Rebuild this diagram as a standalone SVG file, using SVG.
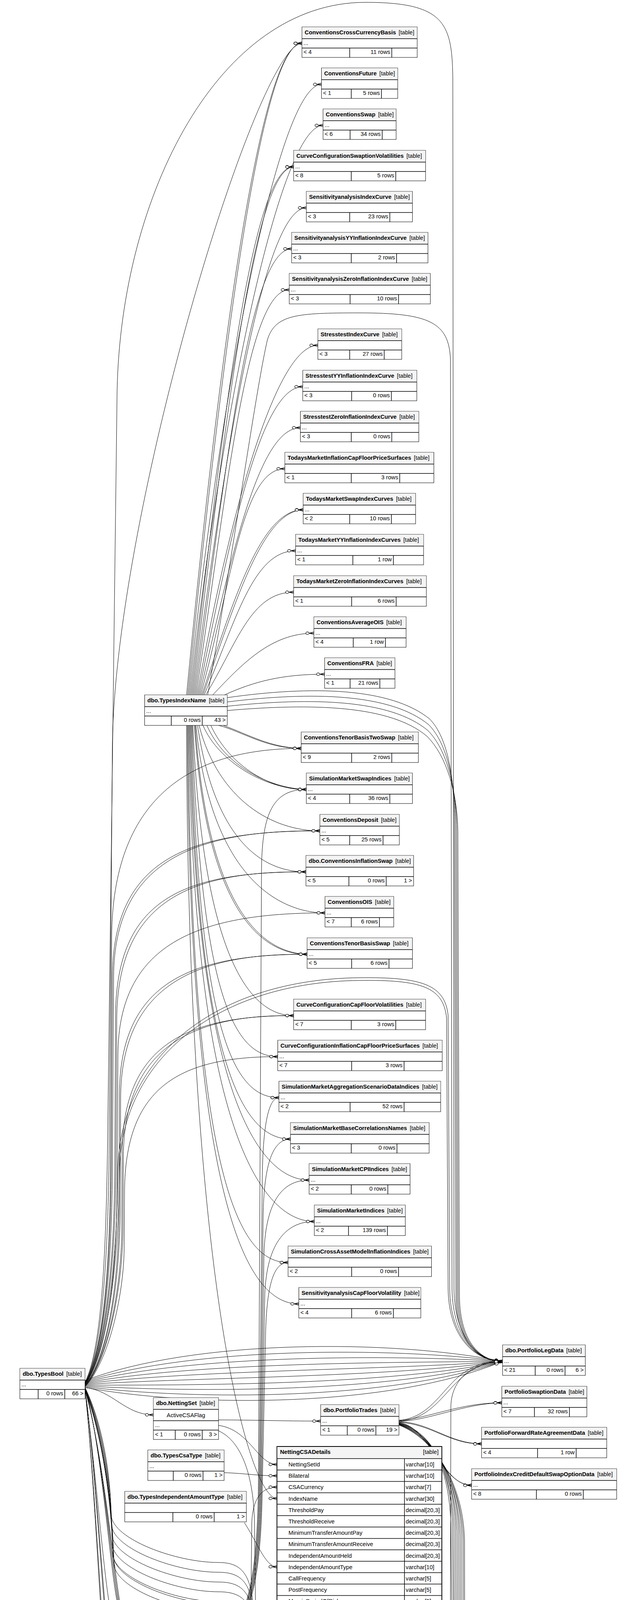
<svg xmlns="http://www.w3.org/2000/svg" width="1596" height="7047" viewBox="0 0 1596 7047">
<style>
text{font-family:"Liberation Sans",Arial,Helvetica,sans-serif;font-size:14.67px;fill:#000}
.b{font-weight:bold}
.r{text-anchor:end}
.c{text-anchor:middle}
.o{fill:#fff;stroke:#000;stroke-width:1}
.o2{fill:#fff;stroke:#000;stroke-width:2}
.h{fill:#f4f4f4}
.nd path{fill:none;stroke:#000;stroke-width:1.5}
#connectors path{fill:none;stroke:#000;stroke-width:1;marker-end:url(#cf)}
</style>
<defs>
<marker id="cf" markerUnits="userSpaceOnUse" viewBox="0 0 24 12" markerWidth="24" markerHeight="12" refX="23" refY="6" orient="auto"><path d="M11 6L23 2.5M11 6H23M11 6L23 9.5" fill="none" stroke="#000" stroke-width="1.3"/><ellipse cx="6.5" cy="6" rx="4.2" ry="3.3" fill="#fff" stroke="#000" stroke-width="1.2"/></marker>
</defs>
<rect width="1596" height="7047" fill="#fff"/>
<g id="connectors">
<path d="M478 1779C558 945 664 111 773.6 111"/>
<path d="M481 1779C563 950 668 108 773.6 111"/>
<path d="M484 1779C564 998 714 216 823.5 216"/>
<path d="M487 1779C567 1050 718 321 827.6 321"/>
<path d="M490 1779C570 1103 642 427 752.2 427"/>
<path d="M493 1779C575 1110 648 430 752.2 427"/>
<path d="M496 1779C576 1156 675 532 784.8 532"/>
<path d="M499 1779C579 1208 637 637 747.1 637"/>
<path d="M502 1779C582 1260 631 742 741 742"/>
<path d="M505 1779C585 1332 704 884 814.3 884"/>
<path d="M508 1779C588 1384 666 990 775.6 990"/>
<path d="M511 1779C591 1437 660 1095 769.5 1095"/>
<path d="M514 1779C594 1490 620 1200 729.8 1200"/>
<path d="M517 1779C597 1542 667 1305 776.7 1305"/>
<path d="M520 1779C602 1545 672 1308 776.7 1305"/>
<path d="M523 1779C603 1594 647 1410 757.3 1410"/>
<path d="M527 1779C607 1648 642 1516 752.2 1516"/>
<path d="M545 1779C620 1700 694 1621 804.1 1621"/>
<path d="M575 1779C650 1745 722 1726 831.6 1726"/>
<path d="M532 1779C600 1400 655 1000 685 870C705 805 760 801 920 801C1100 801 1150 825 1154 920L1158 3300C1160 3430 1225 3485 1287.6 3485"/>
<path d="M582 1786C800 1755 1000 1760 1100 1840C1150 1890 1163 2000 1164 2100L1168 3320C1170 3440 1228 3485 1287.6 3485"/>
<path d="M582 1797C800 1770 1000 1775 1098 1855C1148 1905 1166 2010 1167 2110L1171 3320C1173 3440 1230 3485 1287.6 3485"/>
<path d="M582 1808C800 1785 1000 1790 1096 1870C1146 1920 1169 2020 1170 2120L1174 3320C1176 3440 1232 3485 1287.6 3485"/>
<path d="M582 1819C800 1800 1000 1805 1094 1885C1144 1935 1172 2030 1173 2130L1177 3320C1179 3440 1234 3485 1287.6 3485"/>
<path d="M560 1857C620 1872 680 1916 771.6 1916"/>
<path d="M572 1857C640 1882 690 1913 771.6 1916"/>
<path d="M520 1857C560 1950 680 2021 784.8 2021"/>
<path d="M530 1857C575 1960 690 2018 784.8 2021"/>
<path d="M540 1857C590 1965 700 2024 784.8 2021"/>
<path d="M510 1857C560 2050 700 2127 819.4 2127"/>
<path d="M506 1857C550 2150 670 2232 783.8 2232"/>
<path d="M502 1857C540 2250 720 2337 832.6 2337"/>
<path d="M498 1857C530 2350 680 2443 786.8 2443"/>
<path d="M500 1857C535 2360 690 2440 786.8 2443"/>
<path d="M494 1857C520 2450 640 2600 752.2 2600"/>
<path d="M492 1857C515 2550 600 2705 711.5 2705"/>
<path d="M490 1857C510 2650 600 2810 714.6 2810"/>
<path d="M488 1857C505 2750 630 2916 744.1 2916"/>
<path d="M486 1857C500 2850 680 3021 791.9 3021"/>
<path d="M484 1857C495 2950 690 3127 805.2 3127"/>
<path d="M482 1857C490 3050 620 3232 738 3232"/>
<path d="M480 1857C485 3150 650 3338 765.5 3338"/>
<path d="M478 1857C480 3300 640 3836 709.5 3836"/>
<path d="M218 3538C262 3450 272 3200 276 2900L300 1000C310 500 560 6 936 6C1140 6 1158 60 1160 200L1163 3300C1165 3430 1228 3485 1287.6 3485"/>
<path d="M218 3540C264 3455 278 3200 280 2900L288 1900C298 1300 660 111 773.6 111"/>
<path d="M218 3541C266 3460 283 3250 285 3000L288 2500C290 2200 480 2127 819.4 2127"/>
<path d="M218 3542C267 3462 286 3250 288 3000L291 2500C293 2210 490 2124 819.4 2127"/>
<path d="M218 3543C268 3465 292 3250 294 3000L296 2600C298 2300 470 2232 783.8 2232"/>
<path d="M218 3544C269 3467 295 3250 297 3000L299 2610C301 2310 480 2229 783.8 2232"/>
<path d="M218 3545C272 3470 298 3280 300 3050L302 2700C304 2420 500 2337 832.6 2337"/>
<path d="M218 3546C274 3475 303 3300 305 3100L306 2800C308 2520 480 2443 786.8 2443"/>
<path d="M218 3547C275 3477 306 3300 308 3100L309 2810C311 2530 490 2440 786.8 2443"/>
<path d="M218 3540C265 3455 281 3250 283 3000L286 2400C288 2050 480 1916 771.6 1916"/>
<path d="M218 3548C276 3480 310 3300 312 3150L313 2950C315 2680 470 2600 752.2 2600"/>
<path d="M218 3549C277 3482 313 3300 315 3150L316 2960C318 2690 480 2597 752.2 2600"/>
<path d="M218 3550C278 3485 316 3320 318 3200L319 3050C321 2790 450 2705 711.5 2705"/>
<path d="M218 3542C270 3470 300 3250 302 3000C305 2700 560 2507 920 2503C1080 2501 1140 2520 1148 2600L1152 3300C1154 3430 1224 3485 1287.6 3485"/>
<path d="M218 3543C272 3472 304 3250 306 3000C309 2705 565 2514 920 2510C1078 2508 1136 2526 1144 2606L1148 3300C1150 3430 1222 3485 1287.6 3485"/>
<path d="M218 3534C500 3428 1000 3428 1287.6 3485"/>
<path d="M218 3536C500 3448 1000 3448 1287.6 3485"/>
<path d="M218 3538C500 3468 1000 3468 1287.6 3485"/>
<path d="M218 3540C500 3488 1000 3488 1287.6 3485"/>
<path d="M218 3542C500 3507 1000 3507 1287.6 3485"/>
<path d="M218 3544C500 3526 1000 3526 1287.6 3485"/>
<path d="M218 3546C500 3546 1000 3546 1287.6 3485"/>
<path d="M218 3548C500 3565 1000 3565 1287.6 3485"/>
<path d="M218 3550C500 3585 1000 3585 1287.6 3485"/>
<path d="M218 3552C500 3604 1000 3604 1287.6 3485"/>
<path d="M218 3552C290 3560 320 3622 392.9 3622"/>
<path d="M218 3552C260 3700 280 4000 300 4100C312 4160 330 4178 369.5 4178"/>
<path d="M218 3554C262 3710 284 4010 304 4110C315 4165 335 4178 369.5 4178"/>
<path d="M218 3556C264 3720 288 4020 308 4120C318 4168 340 4178 369.5 4178"/>
<path d="M218 3558C266 3730 292 4030 312 4130C321 4170 345 4178 369.5 4178"/>
<path d="M218 3560C250 3800 270 4100 290 4150C300 4172 330 4178 369.5 4178"/>
<path d="M218 3556C250 3800 270 4250 290 4300C300 4318 310 4319 331.8 4319"/>
<path d="M218 3557C252 3810 273 4255 293 4305C302 4320 312 4321 331.8 4319"/>
<path d="M218 3558C248 3850 265 4350 285 4405C295 4424 305 4425 323.7 4425"/>
<path d="M218 3559C250 3860 268 4355 288 4410C297 4425 307 4426 323.7 4425"/>
<path d="M218 3552C265 3650 283 3780 285 3880C290 3940 450 4000 560 4000C620 4000 645 4030 650 4130L655 4388C657 4433 690 4448 744.1 4448"/>
<path d="M218 3553C266 3660 284 3805 286 3905C291 3965 450 4025 560 4025C622 4025 647 4055 652 4155L657 4493C659 4538 690 4553 718.6 4553"/>
<path d="M218 3554C267 3670 285 3830 287 3930C292 3990 450 4050 560 4050C624 4050 649 4080 654 4180L659 4599C661 4644 692 4659 721.7 4659"/>
<path d="M218 3555C268 3680 286 3855 288 3955C293 4015 450 4075 560 4075C626 4075 651 4105 656 4205L661 4704C663 4749 700 4764 764.4 4764"/>
<path d="M218 3556C269 3690 287 3880 289 3980C294 4040 450 4100 560 4100C628 4100 653 4130 658 4230L663 4845C665 4890 692 4905 720.7 4905"/>
<path d="M218 3557C270 3695 289 3885 291 3985C296 4045 452 4106 562 4106C630 4106 655 4136 660 4236L665 5056C667 5101 692 5116 720.7 5116"/>
<path d="M218 3558C271 3700 290 3905 292 4005C297 4065 450 4125 560 4125C632 4125 657 4155 662 4255L667 4951C669 4996 720 5011 790.9 5011"/>
<path d="M135 5474C150 4700 280 4300 320 4250C338 4205 348 4178 369.5 4178"/>
<path d="M138 5474C155 4720 285 4310 322 4258C340 4210 350 4180 369.5 4178"/>
<path d="M141 5474C160 4740 290 4320 324 4266C342 4215 352 4182 369.5 4178"/>
<path d="M144 5474C165 4760 295 4330 326 4274C344 4220 354 4184 369.5 4178"/>
<path d="M147 5474C165 4900 250 4319 331.8 4319"/>
<path d="M150 5474C170 4920 255 4322 331.8 4319"/>
<path d="M153 5474C172 5000 245 4425 323.7 4425"/>
<path d="M156 5474C176 5010 250 4428 323.7 4425"/>
<path d="M159 5474C180 5050 300 4529 391.9 4529"/>
<path d="M162 5474C185 5060 305 4532 391.9 4529"/>
<path d="M165 5474C190 5070 310 4535 391.9 4529"/>
<path d="M168 5474C190 5200 250 4995 327.8 4995"/>
<path d="M171 5474C195 5280 255 5136 327.8 5136"/>
<path d="M200 5474C230 5400 280 5350 348.1 5350"/>
<path d="M205 5474C235 5405 285 5353 348.1 5350"/>
<path d="M174 5474C200 5000 300 4800 400 4750C520 4700 600 4700 640 4600C660 4500 680 4306 761.4 4306"/>
<path d="M177 5474C205 5000 310 4820 410 4770C530 4720 610 4700 638 4550L645 3900C647 3830 675 3807 709.5 3807"/>
<path d="M180 5474C200 5000 300 4620 380 4600C460 4580 500 4630 560 4630C610 4630 640 4553 718.6 4553"/>
<path d="M183 5474C205 5010 305 4660 385 4640C465 4620 505 4670 565 4670C615 4670 640 4556 718.6 4553"/>
<path d="M186 5474C210 5050 310 4720 390 4700C470 4680 510 4730 570 4730C620 4730 645 4659 721.7 4659"/>
<path d="M189 5474C215 5060 315 4760 395 4740C475 4720 515 4770 575 4770C625 4770 650 4662 721.7 4659"/>
<path d="M192 5474C220 5100 320 4800 400 4780C480 4760 520 4810 580 4810C640 4810 680 4764 764.4 4764"/>
<path d="M195 5474C225 5150 300 4880 420 4870C540 4860 620 4905 720.7 4905"/>
<path d="M198 5474C230 5200 300 4900 440 4895C560 4890 650 5011 790.9 5011"/>
<path d="M201 5474C235 5210 305 4915 445 4910C565 4905 655 5014 790.9 5011"/>
<path d="M226 5474C245 5310 300 5238 420 5240C530 5242 600 5200 640 5160C660 5130 680 5116 720.7 5116"/>
<path d="M228 5474C250 5320 300 5250 420 5255C540 5260 640 5222 791.9 5222"/>
<path d="M232 5474C255 5330 305 5262 425 5268C545 5274 645 5225 791.9 5222"/>
<path d="M235 5474C300 5440 420 5430 560 5420C630 5415 650 5327 704.4 5327"/>
<path d="M240 5476C305 5446 425 5438 565 5428C635 5423 655 5330 704.4 5327"/>
<path d="M252 5488C310 5455 430 5446 570 5436C640 5431 660 5333 704.4 5327"/>
<path d="M252 5498C420 5475 600 5432 753.2 5432"/>
<path d="M252 5513C600 5530 1000 5520 1120 5440C1150 5400 1158 5300 1160 5200L1165 4560C1167 4490 1220 4464 1273.4 4464"/>
<path d="M252 5523C600 5550 1000 5545 1110 5480C1160 5450 1190 5366 1267.3 5366"/>
<path d="M210 5552C240 5590 290 5594 356.3 5594"/>
<path d="M140 5552C150 5650 250 5700 334.9 5700"/>
<path d="M144 5552C155 5655 255 5702 334.9 5700"/>
<path d="M148 5552C160 5660 260 5704 334.9 5700"/>
<path d="M152 5552C165 5665 265 5706 334.9 5700"/>
<path d="M156 5552C170 5720 230 5805 317.6 5805"/>
<path d="M164 5552C180 5800 260 5911 353.2 5911"/>
<path d="M168 5552C185 5805 265 5913 353.2 5911"/>
<path d="M172 5552C190 5810 270 5915 353.2 5911"/>
<path d="M176 5552C195 5900 270 6016 361.4 6016"/>
<path d="M180 5552C200 6100 260 6281 348.1 6281"/>
<path d="M184 5552C205 6300 250 6474 327.8 6474"/>
<path d="M188 5552C210 6400 260 6580 336.9 6580"/>
<path d="M192 5552C215 6500 250 6685 327.8 6685"/>
<path d="M196 5552C218 6600 240 6791 319.6 6791"/>
<path d="M200 5552C205 6300 250 6800 330 6900C400 6960 500 6965 630 6965C900 6965 1050 6874 1285.6 6874"/>
<path d="M204 5552C209 6310 255 6820 335 6918C405 6980 505 6985 640 6985C910 6985 1060 6876 1285.6 6874"/>
<path d="M208 5552C213 6320 260 6840 340 6936C410 6998 510 7002 650 7002C920 7002 1070 6878 1285.6 6874"/>
<path d="M212 5552C230 6100 260 6300 320 6360C400 6420 600 6400 900 6398C1100 6396 1200 6393 1280.5 6393"/>
<path d="M214 5552C232 6110 264 6320 326 6375C406 6430 610 6412 910 6408C1110 6404 1205 6395 1280.5 6393"/>
<path d="M216 5552C230 5900 260 6040 320 6075C400 6110 550 6110 700 6095C900 6075 1120 6000 1145 5800L1150 5450C1152 5390 1210 5366 1267.3 5366"/>
<path d="M220 5552C235 5920 265 6080 325 6110C410 6150 560 6150 720 6135C920 6115 1130 6030 1150 5800L1158 5100C1160 5050 1240 5030 1306 5030"/>
<path d="M224 5552C240 5940 270 6100 330 6125C420 6165 570 6165 740 6150C940 6130 1140 6050 1156 5800L1162 4530C1164 4480 1220 4464 1273.4 4464"/>
<path d="M228 5552C250 5960 280 6150 340 6180C440 6215 600 6215 800 6200C1000 6185 1140 6150 1150 6000L1155 3600C1157 3520 1225 3485 1287.6 3485"/>
<path d="M218 5552C232 5850 262 6000 322 6040C402 6080 560 6100 620 6080C660 6060 680 6003 772.6 6003"/>
<path d="M585 4172C640 4140 660 4000 662 3800L670 2221C672 2081 700 2021 784.8 2021"/>
<path d="M585 4173C642 4142 662 4000 664 3800L672 3010C674 2870 690 2810 714.6 2810"/>
<path d="M585 4174C644 4144 664 4000 666 3800L674 3116C676 2976 700 2916 744.1 2916"/>
<path d="M585 4175C646 4146 666 4000 668 3800L676 3221C678 3081 720 3021 791.9 3021"/>
<path d="M585 4176C648 4148 668 4000 670 3800L678 3327C680 3187 730 3127 805.2 3127"/>
<path d="M585 4177C650 4150 670 4000 672 3800L680 3432C682 3292 700 3232 738 3232"/>
<path d="M585 4178C635 4195 655 4250 660 4320C664 4400 690 4448 744.1 4448"/>
<path d="M585 4179C637 4198 657 4255 662 4325C666 4405 692 4450 744.1 4448"/>
<path d="M585 4180C640 4200 660 4280 664 4380C667 4480 680 4553 718.6 4553"/>
<path d="M585 4181C642 4203 662 4285 666 4390C669 4490 684 4555 718.6 4553"/>
<path d="M585 4182C644 4206 664 4300 668 4450C671 4580 688 4659 721.7 4659"/>
<path d="M585 4183C646 4209 666 4305 670 4460C673 4590 690 4661 721.7 4659"/>
<path d="M585 4184C648 4212 668 4320 672 4550C675 4700 700 4764 764.4 4764"/>
<path d="M585 4185C650 4215 670 4340 674 4650C676 4840 690 4905 720.7 4905"/>
<path d="M585 4186C652 4218 672 4345 676 4660C678 4845 692 4907 720.7 4905"/>
<path d="M585 4187C654 4221 674 4360 678 4750C680 4950 720 5011 790.9 5011"/>
<path d="M585 4188C656 4224 676 4380 680 4850C682 5050 695 5116 720.7 5116"/>
<path d="M585 4189C658 4227 678 4385 682 4860C684 5055 697 5118 720.7 5116"/>
<path d="M585 4190C660 4230 680 4400 684 4950C686 5150 720 5222 791.9 5222"/>
<path d="M585 4191C662 4233 682 4420 686 5050C688 5260 695 5327 704.4 5327"/>
<path d="M585 4192C664 4236 684 4425 688 5060C690 5265 697 5329 704.4 5327"/>
<path d="M585 4193C666 4239 686 4440 690 5150C692 5360 720 5432 753.2 5432"/>
<path d="M585 4194C668 4242 688 4460 692 5400C694 5650 690 5740 700.3 5740"/>
<path d="M585 4195C670 4245 690 4465 694 5410C696 5660 693 5741 700.3 5740"/>
<path d="M1022 3636C1100 3630 1130 3560 1180 3520C1220 3490 1250 3485 1287.6 3485"/>
<path d="M1022 3638C1104 3634 1136 3566 1184 3526C1222 3494 1252 3487 1287.6 3485"/>
<path d="M1022 3637C1100 3630 1180 3591 1285.6 3591"/>
<path d="M1022 3639C1105 3635 1185 3594 1285.6 3591"/>
<path d="M1022 3640C1100 3640 1150 3696 1233.7 3696"/>
<path d="M1022 3641C1105 3645 1155 3699 1233.7 3696"/>
<path d="M1022 3642C1100 3650 1130 3802 1208.2 3802"/>
<path d="M1022 3643C1105 3655 1135 3805 1208.2 3802"/>
<path d="M1022 3644C1100 3660 1150 3750 1155 3900L1160 4380C1162 4440 1220 4464 1273.4 4464"/>
<path d="M1022 3644C1102 3662 1154 3752 1159 3902L1164 4384C1166 4442 1222 4466 1273.4 4464"/>
<path d="M1022 3645C1102 3665 1158 3760 1163 3910L1168 4950C1170 5010 1240 5030 1306 5030"/>
<path d="M1022 3645C1104 3667 1162 3762 1167 3912L1172 4954C1174 5012 1242 5032 1306 5030"/>
<path d="M1022 3646C1104 3670 1166 3770 1171 3920L1176 5290C1178 5345 1220 5366 1267.3 5366"/>
<path d="M1022 3646C1106 3672 1170 3772 1175 3922L1180 5294C1182 5347 1222 5368 1267.3 5366"/>
<path d="M1022 3647C1106 3675 1174 3780 1179 3930L1184 6320C1186 6375 1230 6393 1280.5 6393"/>
<path d="M1022 3647C1108 3677 1178 3782 1183 3932L1186 6324C1188 6377 1232 6395 1280.5 6393"/>
<path d="M1022 3648C1108 3680 1182 3790 1187 3940L1192 6800C1194 6855 1235 6874 1285.6 6874"/>
<path d="M1022 3648C1110 3682 1186 3792 1190 3942L1195 6804C1197 6857 1237 6876 1285.6 6874"/>
<path d="M560 3635C650 3635 720 3638 821.4 3638"/>
<path d="M560 3649C640 3660 660 3749 709.5 3749"/>
<path d="M560 3663C620 3690 650 3780 652 3900L656 4220C658 4285 700 4306 761.4 4306"/>
<path d="M574 3770C630 3772 660 3778 709.5 3778"/>
<path d="M626 3898C660 3950 680 4011 709.5 4011"/>
<path d="M618 5702C650 5706 665 5740 700.3 5740"/>
<path d="M618 5712C660 5760 685 5900 700 5960C712 5995 740 6003 772.6 6003"/>
</g>
<g id="t-ConventionsCrossCurrencyBasis" class="nd" transform="translate(773.6,69)"><rect class="o" width="295.2" height="78"/><rect class="h" x=".5" y=".5" width="294.2" height="29.5"/><path d="M0 30H295.2M0 54H295.2M122.2 54V78M230 54V78"/><text x="7" y="18.5"><tspan class="b">ConventionsCrossCurrencyBasis</tspan><tspan dx="7">[table]</tspan></text><text x="4" y="45.5">...</text><text x="4" y="69">&lt; 4</text><text class="r" x="226" y="69">11 rows</text></g>
<g id="t-ConventionsFuture" class="nd" transform="translate(823.5,174)"><rect class="o" width="195.4" height="78"/><rect class="h" x=".5" y=".5" width="194.4" height="29.5"/><path d="M0 30H195.4M0 54H195.4M76.3 54V78M153.7 54V78"/><text x="7" y="18.5"><tspan class="b">ConventionsFuture</tspan><tspan dx="7">[table]</tspan></text><text x="4" y="69">&lt; 1</text><text class="r" x="149.7" y="69">5 rows</text></g>
<g id="t-ConventionsSwap" class="nd" transform="translate(827.6,279)"><rect class="o" width="187.2" height="78"/><rect class="h" x=".5" y=".5" width="186.2" height="29.5"/><path d="M0 30H187.2M0 54H187.2M69.2 54V78M151.6 54V78"/><text x="7" y="18.5"><tspan class="b">ConventionsSwap</tspan><tspan dx="7">[table]</tspan></text><text x="4" y="45.5">...</text><text x="4" y="69">&lt; 6</text><text class="r" x="147.6" y="69">34 rows</text></g>
<g id="t-CurveConfigurationSwaptionVolatilities" class="nd" transform="translate(752.2,385)"><rect class="o" width="338" height="78"/><rect class="h" x=".5" y=".5" width="337" height="29.5"/><path d="M0 30H338M0 54H338M147.6 54V78M261.6 54V78"/><text x="7" y="18.5"><tspan class="b">CurveConfigurationSwaptionVolatilities</tspan><tspan dx="7">[table]</tspan></text><text x="4" y="45.5">...</text><text x="4" y="69">&lt; 8</text><text class="r" x="257.6" y="69">5 rows</text></g>
<g id="t-SensitivityanalysisIndexCurve" class="nd" transform="translate(784.8,490)"><rect class="o" width="271.8" height="78"/><rect class="h" x=".5" y=".5" width="270.8" height="29.5"/><path d="M0 30H271.8M0 54H271.8M111 54V78M213.8 54V78"/><text x="7" y="18.5"><tspan class="b">SensitivityanalysisIndexCurve</tspan><tspan dx="7">[table]</tspan></text><text x="4" y="69">&lt; 3</text><text class="r" x="209.8" y="69">23 rows</text></g>
<g id="t-SensitivityanalysisYYInflationIndexCurve" class="nd" transform="translate(747.1,595)"><rect class="o" width="349.2" height="78"/><rect class="h" x=".5" y=".5" width="348.2" height="29.5"/><path d="M0 30H349.2M0 54H349.2M152.7 54V78M268.8 54V78"/><text x="7" y="18.5"><tspan class="b">SensitivityanalysisYYInflationIndexCurve</tspan><tspan dx="7">[table]</tspan></text><text x="4" y="45.5">...</text><text x="4" y="69">&lt; 3</text><text class="r" x="264.8" y="69">2 rows</text></g>
<g id="t-SensitivityanalysisZeroInflationIndexCurve" class="nd" transform="translate(741,700)"><rect class="o" width="361.4" height="78"/><rect class="h" x=".5" y=".5" width="360.4" height="29.5"/><path d="M0 30H361.4M0 54H361.4M155.8 54V78M280 54V78"/><text x="7" y="18.5"><tspan class="b">SensitivityanalysisZeroInflationIndexCurve</tspan><tspan dx="7">[table]</tspan></text><text x="4" y="45.5">...</text><text x="4" y="69">&lt; 3</text><text class="r" x="276" y="69">10 rows</text></g>
<g id="t-StresstestIndexCurve" class="nd" transform="translate(814.3,842)"><rect class="o" width="214.8" height="78"/><rect class="h" x=".5" y=".5" width="213.8" height="29.5"/><path d="M0 30H214.8M0 54H214.8M81.5 54V78M170 54V78"/><text x="7" y="18.5"><tspan class="b">StresstestIndexCurve</tspan><tspan dx="7">[table]</tspan></text><text x="4" y="69">&lt; 3</text><text class="r" x="166" y="69">27 rows</text></g>
<g id="t-StresstestYYInflationIndexCurve" class="nd" transform="translate(775.6,948)"><rect class="o" width="292.2" height="78"/><rect class="h" x=".5" y=".5" width="291.2" height="29.5"/><path d="M0 30H292.2M0 54H292.2M125.2 54V78M227 54V78"/><text x="7" y="18.5"><tspan class="b">StresstestYYInflationIndexCurve</tspan><tspan dx="7">[table]</tspan></text><text x="4" y="45.5">...</text><text x="4" y="69">&lt; 3</text><text class="r" x="223" y="69">0 rows</text></g>
<g id="t-StresstestZeroInflationIndexCurve" class="nd" transform="translate(769.5,1053)"><rect class="o" width="303.4" height="78"/><rect class="h" x=".5" y=".5" width="302.4" height="29.5"/><path d="M0 30H303.4M0 54H303.4M130.3 54V78M234.1 54V78"/><text x="7" y="18.5"><tspan class="b">StresstestZeroInflationIndexCurve</tspan><tspan dx="7">[table]</tspan></text><text x="4" y="45.5">...</text><text x="4" y="69">&lt; 3</text><text class="r" x="230.1" y="69">0 rows</text></g>
<g id="t-TodaysMarketInflationCapFloorPriceSurfaces" class="nd" transform="translate(729.8,1158)"><rect class="o" width="381.7" height="78"/><rect class="h" x=".5" y=".5" width="380.7" height="29.5"/><path d="M0 30H381.7M0 54H381.7M170 54V78M294.2 54V78"/><text x="7" y="18.5"><tspan class="b">TodaysMarketInflationCapFloorPriceSurfaces</tspan><tspan dx="7">[table]</tspan></text><text x="4" y="69">&lt; 1</text><text class="r" x="290.2" y="69">3 rows</text></g>
<g id="t-TodaysMarketSwapIndexCurves" class="nd" transform="translate(776.7,1263)"><rect class="o" width="288" height="78"/><rect class="h" x=".5" y=".5" width="287" height="29.5"/><path d="M0 30H288M0 54H288M119.1 54V78M225.9 54V78"/><text x="7" y="18.5"><tspan class="b">TodaysMarketSwapIndexCurves</tspan><tspan dx="7">[table]</tspan></text><text x="4" y="45.5">...</text><text x="4" y="69">&lt; 2</text><text class="r" x="221.9" y="69">10 rows</text></g>
<g id="t-TodaysMarketYYInflationIndexCurves" class="nd" transform="translate(757.3,1368)"><rect class="o" width="327.8" height="78"/><rect class="h" x=".5" y=".5" width="326.8" height="29.5"/><path d="M0 30H327.8M0 54H327.8M146.6 54V78M250.4 54V78"/><text x="7" y="18.5"><tspan class="b">TodaysMarketYYInflationIndexCurves</tspan><tspan dx="7">[table]</tspan></text><text x="4" y="45.5">...</text><text x="4" y="69">&lt; 1</text><text class="r" x="246.4" y="69">1 row</text></g>
<g id="t-TodaysMarketZeroInflationIndexCurves" class="nd" transform="translate(752.2,1474)"><rect class="o" width="340" height="78"/><rect class="h" x=".5" y=".5" width="339" height="29.5"/><path d="M0 30H340M0 54H340M148.6 54V78M262.6 54V78"/><text x="7" y="18.5"><tspan class="b">TodaysMarketZeroInflationIndexCurves</tspan><tspan dx="7">[table]</tspan></text><text x="4" y="69">&lt; 1</text><text class="r" x="258.6" y="69">6 rows</text></g>
<g id="t-ConventionsAverageOIS" class="nd" transform="translate(804.1,1579)"><rect class="o" width="236.2" height="78"/><rect class="h" x=".5" y=".5" width="235.2" height="29.5"/><path d="M0 30H236.2M0 54H236.2M100.8 54V78M183.3 54V78"/><text x="7" y="18.5"><tspan class="b">ConventionsAverageOIS</tspan><tspan dx="7">[table]</tspan></text><text x="4" y="45.5">...</text><text x="4" y="69">&lt; 4</text><text class="r" x="179.3" y="69">1 row</text></g>
<g id="t-ConventionsFRA" class="nd" transform="translate(831.6,1684)"><rect class="o" width="180.2" height="78"/><rect class="h" x=".5" y=".5" width="179.2" height="29.5"/><path d="M0 30H180.2M0 54H180.2M65.2 54V78M141.5 54V78"/><text x="7" y="18.5"><tspan class="b">ConventionsFRA</tspan><tspan dx="7">[table]</tspan></text><text x="4" y="45.5">...</text><text x="4" y="69">&lt; 1</text><text class="r" x="137.5" y="69">21 rows</text></g>
<g id="t-dbo.TypesIndexName" class="nd" transform="translate(370.5,1779)"><rect class="o" width="211.7" height="78"/><rect class="h" x=".5" y=".5" width="210.7" height="29.5"/><path d="M0 30H211.7M0 54H211.7M68.2 54V78M147.6 54V78"/><text x="7" y="18.5"><tspan class="b">dbo.TypesIndexName</tspan><tspan dx="7">[table]</tspan></text><text x="4" y="45.5">...</text><text class="r" x="143.6" y="69">0 rows</text><text class="r" x="207.7" y="69">43 &gt;</text></g>
<g id="t-ConventionsTenorBasisTwoSwap" class="nd" transform="translate(771.6,1874)"><rect class="o" width="300.2" height="78"/><rect class="h" x=".5" y=".5" width="299.2" height="29.5"/><path d="M0 30H300.2M0 54H300.2M129.2 54V78M232 54V78"/><text x="7" y="18.5"><tspan class="b">ConventionsTenorBasisTwoSwap</tspan><tspan dx="7">[table]</tspan></text><text x="4" y="69">&lt; 9</text><text class="r" x="228" y="69">2 rows</text></g>
<g id="t-SimulationMarketSwapIndices" class="nd" transform="translate(784.8,1979)"><rect class="o" width="271.8" height="78"/><rect class="h" x=".5" y=".5" width="270.8" height="29.5"/><path d="M0 30H271.8M0 54H271.8M111 54V78M213.8 54V78"/><text x="7" y="18.5"><tspan class="b">SimulationMarketSwapIndices</tspan><tspan dx="7">[table]</tspan></text><text x="4" y="45.5">...</text><text x="4" y="69">&lt; 4</text><text class="r" x="209.8" y="69">36 rows</text></g>
<g id="t-ConventionsDeposit" class="nd" transform="translate(819.4,2085)"><rect class="o" width="203.6" height="78"/><rect class="h" x=".5" y=".5" width="202.6" height="29.5"/><path d="M0 30H203.6M0 54H203.6M76.4 54V78M161.9 54V78"/><text x="7" y="18.5"><tspan class="b">ConventionsDeposit</tspan><tspan dx="7">[table]</tspan></text><text x="4" y="45.5">...</text><text x="4" y="69">&lt; 5</text><text class="r" x="157.9" y="69">25 rows</text></g>
<g id="t-dbo.ConventionsInflationSwap" class="nd" transform="translate(783.8,2190)"><rect class="o" width="275.8" height="78"/><rect class="h" x=".5" y=".5" width="274.8" height="29.5"/><path d="M0 30H275.8M0 54H275.8M109.9 54V78M205.6 54V78"/><text x="7" y="18.5"><tspan class="b">dbo.ConventionsInflationSwap</tspan><tspan dx="7">[table]</tspan></text><text x="4" y="69">&lt; 5</text><text class="r" x="201.6" y="69">0 rows</text><text class="r" x="271.8" y="69">1 &gt;</text></g>
<g id="t-ConventionsOIS" class="nd" transform="translate(832.6,2295)"><rect class="o" width="176.1" height="78"/><rect class="h" x=".5" y=".5" width="175.1" height="29.5"/><path d="M0 30H176.1M0 54H176.1M67.2 54V78M139.5 54V78"/><text x="7" y="18.5"><tspan class="b">ConventionsOIS</tspan><tspan dx="7">[table]</tspan></text><text x="4" y="45.5">...</text><text x="4" y="69">&lt; 7</text><text class="r" x="135.5" y="69">6 rows</text></g>
<g id="t-ConventionsTenorBasisSwap" class="nd" transform="translate(786.8,2401)"><rect class="o" width="269.8" height="78"/><rect class="h" x=".5" y=".5" width="268.8" height="29.5"/><path d="M0 30H269.8M0 54H269.8M114 54V78M209.7 54V78"/><text x="7" y="18.5"><tspan class="b">ConventionsTenorBasisSwap</tspan><tspan dx="7">[table]</tspan></text><text x="4" y="45.5">...</text><text x="4" y="69">&lt; 5</text><text class="r" x="205.7" y="69">6 rows</text></g>
<g id="t-CurveConfigurationCapFloorVolatilities" class="nd" transform="translate(752.2,2558)"><rect class="o" width="338" height="78"/><rect class="h" x=".5" y=".5" width="337" height="29.5"/><path d="M0 30H338M0 54H338M147.6 54V78M261.6 54V78"/><text x="7" y="18.5"><tspan class="b">CurveConfigurationCapFloorVolatilities</tspan><tspan dx="7">[table]</tspan></text><text x="4" y="69">&lt; 7</text><text class="r" x="257.6" y="69">3 rows</text></g>
<g id="t-CurveConfigurationInflationCapFloorPriceSurfaces" class="nd" transform="translate(711.5,2663)"><rect class="o" width="421.4" height="78"/><rect class="h" x=".5" y=".5" width="420.4" height="29.5"/><path d="M0 30H421.4M0 54H421.4M189.3 54V78M323.7 54V78"/><text x="7" y="18.5"><tspan class="b">CurveConfigurationInflationCapFloorPriceSurfaces</tspan><tspan dx="7">[table]</tspan></text><text x="4" y="45.5">...</text><text x="4" y="69">&lt; 7</text><text class="r" x="319.7" y="69">3 rows</text></g>
<g id="t-SimulationMarketAggregationScenarioDataIndices" class="nd" transform="translate(714.6,2768)"><rect class="o" width="414.3" height="78"/><rect class="h" x=".5" y=".5" width="413.3" height="29.5"/><path d="M0 30H414.3M0 54H414.3M182.2 54V78M320.6 54V78"/><text x="7" y="18.5"><tspan class="b">SimulationMarketAggregationScenarioDataIndices</tspan><tspan dx="7">[table]</tspan></text><text x="4" y="45.5">...</text><text x="4" y="69">&lt; 2</text><text class="r" x="316.6" y="69">52 rows</text></g>
<g id="t-SimulationMarketBaseCorrelationsNames" class="nd" transform="translate(744.1,2874)"><rect class="o" width="355.2" height="78"/><rect class="h" x=".5" y=".5" width="354.2" height="29.5"/><path d="M0 30H355.2M0 54H355.2M155.7 54V78M272.8 54V78"/><text x="7" y="18.5"><tspan class="b">SimulationMarketBaseCorrelationsNames</tspan><tspan dx="7">[table]</tspan></text><text x="4" y="69">&lt; 3</text><text class="r" x="268.8" y="69">0 rows</text></g>
<g id="t-SimulationMarketCPIIndices" class="nd" transform="translate(791.9,2979)"><rect class="o" width="258.6" height="78"/><rect class="h" x=".5" y=".5" width="257.6" height="29.5"/><path d="M0 30H258.6M0 54H258.6M107.9 54V78M201.6 54V78"/><text x="7" y="18.5"><tspan class="b">SimulationMarketCPIIndices</tspan><tspan dx="7">[table]</tspan></text><text x="4" y="45.5">...</text><text x="4" y="69">&lt; 2</text><text class="r" x="197.6" y="69">0 rows</text></g>
<g id="t-SimulationMarketIndices" class="nd" transform="translate(805.2,3085)"><rect class="o" width="233.1" height="78"/><rect class="h" x=".5" y=".5" width="232.1" height="29.5"/><path d="M0 30H233.1M0 54H233.1M87.5 54V78M187.3 54V78"/><text x="7" y="18.5"><tspan class="b">SimulationMarketIndices</tspan><tspan dx="7">[table]</tspan></text><text x="4" y="45.5">...</text><text x="4" y="69">&lt; 2</text><text class="r" x="183.3" y="69">139 rows</text></g>
<g id="t-SimulationCrossAssetModelInflationIndices" class="nd" transform="translate(738,3190)"><rect class="o" width="367.4" height="78"/><rect class="h" x=".5" y=".5" width="366.4" height="29.5"/><path d="M0 30H367.4M0 54H367.4M162.8 54V78M283 54V78"/><text x="7" y="18.5"><tspan class="b">SimulationCrossAssetModelInflationIndices</tspan><tspan dx="7">[table]</tspan></text><text x="4" y="69">&lt; 2</text><text class="r" x="279" y="69">0 rows</text></g>
<g id="t-SensitivityanalysisCapFloorVolatility" class="nd" transform="translate(765.5,3296)"><rect class="o" width="312.5" height="78"/><rect class="h" x=".5" y=".5" width="311.5" height="29.5"/><path d="M0 30H312.5M0 54H312.5M135.3 54V78M242.2 54V78"/><text x="7" y="18.5"><tspan class="b">SensitivityanalysisCapFloorVolatility</tspan><tspan dx="7">[table]</tspan></text><text x="4" y="45.5">...</text><text x="4" y="69">&lt; 4</text><text class="r" x="238.2" y="69">6 rows</text></g>
<g id="t-dbo.PortfolioLegData" class="nd" transform="translate(1287.6,3443)"><rect class="o" width="211.8" height="78"/><rect class="h" x=".5" y=".5" width="210.8" height="29.5"/><path d="M0 30H211.8M0 54H211.8M83.5 54V78M159.9 54V78"/><text x="7" y="18.5"><tspan class="b">dbo.PortfolioLegData</tspan><tspan dx="7">[table]</tspan></text><text x="4" y="45.5">...</text><text x="4" y="69">&lt; 21</text><text class="r" x="155.9" y="69">0 rows</text><text class="r" x="207.8" y="69">6 &gt;</text></g>
<g id="t-dbo.TypesBool" class="nd" transform="translate(50.9,3503)"><rect class="o" width="166.9" height="78"/><rect class="h" x=".5" y=".5" width="165.9" height="29.5"/><path d="M0 30H166.9M0 54H166.9M46.8 54V78M115 54V78"/><text x="7" y="18.5"><tspan class="b">dbo.TypesBool</tspan><tspan dx="7">[table]</tspan></text><text x="4" y="45.5">...</text><text class="r" x="111" y="69">0 rows</text><text class="r" x="162.9" y="69">66 &gt;</text></g>
<g id="t-PortfolioSwaptionData" class="nd" transform="translate(1285.6,3549)"><rect class="o" width="217.8" height="78"/><rect class="h" x=".5" y=".5" width="216.8" height="29.5"/><path d="M0 30H217.8M0 54H217.8M83.5 54V78M173.1 54V78"/><text x="7" y="18.5"><tspan class="b">PortfolioSwaptionData</tspan><tspan dx="7">[table]</tspan></text><text x="4" y="45.5">...</text><text x="4" y="69">&lt; 7</text><text class="r" x="169.1" y="69">32 rows</text></g>
<g id="t-dbo.NettingSet" class="nd" transform="translate(392.9,3578)"><rect class="o" width="166.9" height="107"/><rect class="h" x=".5" y=".5" width="165.9" height="29.5"/><path d="M0 30H166.9M0 59H166.9M0 83H166.9M56 83V107M125.2 83V107"/><text x="7" y="18.5"><tspan class="b">dbo.NettingSet</tspan><tspan dx="7">[table]</tspan></text><text class="c" x="83.5" y="50">ActiveCSAFlag</text><text x="4" y="74.5">...</text><text x="4" y="99">&lt; 1</text><text class="r" x="121.2" y="99">0 rows</text><text class="r" x="162.9" y="99">3 &gt;</text></g>
<g id="t-dbo.PortfolioTrades" class="nd" transform="translate(821.4,3596)"><rect class="o" width="200.6" height="78"/><rect class="h" x=".5" y=".5" width="199.6" height="29.5"/><path d="M0 30H200.6M0 54H200.6M68.2 54V78M141.5 54V78"/><text x="7" y="18.5"><tspan class="b">dbo.PortfolioTrades</tspan><tspan dx="7">[table]</tspan></text><text x="4" y="45.5">...</text><text x="4" y="69">&lt; 1</text><text class="r" x="137.5" y="69">0 rows</text><text class="r" x="196.6" y="69">19 &gt;</text></g>
<g id="t-PortfolioForwardRateAgreementData" class="nd" transform="translate(1233.7,3654)"><rect class="o" width="320.6" height="78"/><rect class="h" x=".5" y=".5" width="319.6" height="29.5"/><path d="M0 30H320.6M0 54H320.6M143.5 54V78M242.3 54V78"/><text x="7" y="18.5"><tspan class="b">PortfolioForwardRateAgreementData</tspan><tspan dx="7">[table]</tspan></text><text x="4" y="69">&lt; 4</text><text class="r" x="238.3" y="69">1 row</text></g>
<g id="t-NettingCSADetails" class="nd" transform="translate(709.5,3703)"><rect class="o2" width="422.4" height="494"/><rect class="h" x="1" y="1" width="420.4" height="30"/><path d="M0 31H422.4M0 60.2H422.4M0 89.4H422.4M0 118.6H422.4M0 147.8H422.4M0 177H422.4M0 206.2H422.4M0 235.4H422.4M0 264.6H422.4M0 293.8H422.4M0 323H422.4M0 352.2H422.4M0 381.4H422.4M0 410.6H422.4M0 439.8H422.4M0 469H422.4M326.7 31V494M147.6 469V494"/><text class="b" x="8" y="19">NettingCSADetails</text><text class="r" x="414" y="19">[table]</text>
<text x="29.5" y="51">NettingSetId</text><text x="329.8" y="51">varchar[10]</text>
<text x="29.5" y="80.2">Bilateral</text><text x="329.8" y="80.2">varchar[10]</text>
<text x="29.5" y="109.4">CSACurrency</text><text x="329.8" y="109.4">varchar[7]</text>
<text x="29.5" y="138.6">IndexName</text><text x="329.8" y="138.6">varchar[30]</text>
<text x="29.5" y="167.8">ThresholdPay</text><text x="329.8" y="167.8">decimal[20,3]</text>
<text x="29.5" y="197">ThresholdReceive</text><text x="329.8" y="197">decimal[20,3]</text>
<text x="29.5" y="226.2">MinimumTransferAmountPay</text><text x="329.8" y="226.2">decimal[20,3]</text>
<text x="29.5" y="255.4">MinimumTransferAmountReceive</text><text x="329.8" y="255.4">decimal[20,3]</text>
<text x="29.5" y="284.6">IndependentAmountHeld</text><text x="329.8" y="284.6">decimal[20,3]</text>
<text x="29.5" y="313.8">IndependentAmountType</text><text x="329.8" y="313.8">varchar[10]</text>
<text x="29.5" y="343">CallFrequency</text><text x="329.8" y="343">varchar[5]</text>
<text x="29.5" y="372.2">PostFrequency</text><text x="329.8" y="372.2">varchar[5]</text>
<text x="29.5" y="401.4">MarginPeriodOfRisk</text><text x="329.8" y="401.4">varchar[5]</text>
<text x="29.5" y="430.6">CollateralCompoundingSpreadReceive</text><text x="329.8" y="430.6">decimal[11,6]</text>
<text x="29.5" y="459.8">CollateralCompoundingSpreadPay</text><text x="329.8" y="459.8">decimal[11,6]</text>
<text x="4" y="486">&lt; 5</text><text class="r" x="322.7" y="486">42 rows</text><text class="r" x="418" y="486">0 &gt;</text></g>
<g id="t-dbo.TypesCsaType" class="nd" transform="translate(378.7,3712)"><rect class="o" width="195.4" height="78"/><rect class="h" x=".5" y=".5" width="194.4" height="29.5"/><path d="M0 30H195.4M0 54H195.4M65.1 54V78M141.4 54V78"/><text x="7" y="18.5"><tspan class="b">dbo.TypesCsaType</tspan><tspan dx="7">[table]</tspan></text><text x="4" y="45.5">...</text><text class="r" x="137.4" y="69">0 rows</text><text class="r" x="191.4" y="69">1 &gt;</text></g>
<g id="t-PortfolioIndexCreditDefaultSwapOptionData" class="nd" transform="translate(1208.2,3760)"><rect class="o" width="371.6" height="78"/><rect class="h" x=".5" y=".5" width="370.6" height="29.5"/><path d="M0 30H371.6M0 54H371.6M166 54V78M286.1 54V78"/><text x="7" y="18.5"><tspan class="b">PortfolioIndexCreditDefaultSwapOptionData</tspan><tspan dx="7">[table]</tspan></text><text x="4" y="45.5">...</text><text x="4" y="69">&lt; 8</text><text class="r" x="282.1" y="69">0 rows</text></g>
<g id="t-dbo.TypesIndependentAmountType" class="nd" transform="translate(319.6,3818)"><rect class="o" width="311.5" height="78"/><rect class="h" x=".5" y=".5" width="310.5" height="29.5"/><path d="M0 30H311.5M0 54H311.5M123.2 54V78M229 54V78"/><text x="7" y="18.5"><tspan class="b">dbo.TypesIndependentAmountType</tspan><tspan dx="7">[table]</tspan></text><text class="r" x="225" y="69">0 rows</text><text class="r" x="307.5" y="69">1 &gt;</text></g>
<g id="t-dbo.SimulationMarket" class="nd" transform="translate(369.5,4136)"><rect class="o" width="212.7" height="78"/><rect class="h" x=".5" y=".5" width="211.7" height="29.5"/><path d="M0 30H212.7M0 54H212.7M79.4 54V78M154.7 54V78"/><text x="7" y="18.5"><tspan class="b">dbo.SimulationMarket</tspan><tspan dx="7">[table]</tspan></text><text x="4" y="45.5">...</text><text x="4" y="69">&lt; 16</text><text class="r" x="150.7" y="69">0 rows</text><text class="r" x="208.7" y="69">32 &gt;</text></g>
<g id="t-NettingEligibleCollateralsCurrencies" class="nd" transform="translate(761.4,4264)"><rect class="o" width="319.6" height="78"/><rect class="h" x=".5" y=".5" width="318.6" height="29.5"/><path d="M0 30H319.6M0 54H319.6M134.4 54V78M250.4 54V78"/><text x="7" y="18.5"><tspan class="b">NettingEligibleCollateralsCurrencies</tspan><tspan dx="7">[table]</tspan></text><text x="4" y="45.5">...</text><text x="4" y="69">&lt; 2</text><text class="r" x="246.4" y="69">42 rows</text></g>
<g id="t-CurveConfigurationYieldCurves" class="nd" transform="translate(331.8,4277)"><rect class="o" width="288.1" height="78"/><rect class="h" x=".5" y=".5" width="287.1" height="29.5"/><path d="M0 30H288.1M0 54H288.1M119.1 54V78M226 54V78"/><text x="7" y="18.5"><tspan class="b">CurveConfigurationYieldCurves</tspan><tspan dx="7">[table]</tspan></text><text x="4" y="45.5">...</text><text x="4" y="69">&lt; 6</text><text class="r" x="222" y="69">30 rows</text></g>
<g id="t-CurveConfigurationDefaultCurves" class="nd" transform="translate(323.7,4383)"><rect class="o" width="304.3" height="78"/><rect class="h" x=".5" y=".5" width="303.3" height="29.5"/><path d="M0 30H304.3M0 54H304.3M131.3 54V78M235.1 54V78"/><text x="7" y="18.5"><tspan class="b">CurveConfigurationDefaultCurves</tspan><tspan dx="7">[table]</tspan></text><text x="4" y="69">&lt; 8</text><text class="r" x="231.1" y="69">4 rows</text></g>
<g id="t-SimulationCrossAssetModelEquityModels" class="nd" transform="translate(744.1,4406)"><rect class="o" width="355.2" height="78"/><rect class="h" x=".5" y=".5" width="354.2" height="29.5"/><path d="M0 30H355.2M0 54H355.2M155.7 54V78M272.8 54V78"/><text x="7" y="18.5"><tspan class="b">SimulationCrossAssetModelEquityModels</tspan><tspan dx="7">[table]</tspan></text><text x="4" y="69">&lt; 5</text><text class="r" x="268.8" y="69">2 rows</text></g>
<g id="t-PortfolioEquityOptionData" class="nd" transform="translate(1273.4,4422)"><rect class="o" width="243.3" height="78"/><rect class="h" x=".5" y=".5" width="242.3" height="29.5"/><path d="M0 30H243.3M0 54H243.3M96.7 54V78M190.3 54V78"/><text x="7" y="18.5"><tspan class="b">PortfolioEquityOptionData</tspan><tspan dx="7">[table]</tspan></text><text x="4" y="45.5">...</text><text x="4" y="69">&lt; 9</text><text class="r" x="186.3" y="69">10 rows</text></g>
<g id="t-ConventionsFX" class="nd" transform="translate(391.9,4487)"><rect class="o" width="169" height="78"/><rect class="h" x=".5" y=".5" width="168" height="29.5"/><path d="M0 30H169M0 54H169M60 54V78M136.4 54V78"/><text x="7" y="18.5"><tspan class="b">ConventionsFX</tspan><tspan dx="7">[table]</tspan></text><text x="4" y="45.5">...</text><text x="4" y="69">&lt; 3</text><text class="r" x="132.4" y="69">12 rows</text></g>
<g id="t-SimulationCrossAssetModelInflationIndexModels" class="nd" transform="translate(718.6,4511)"><rect class="o" width="406.2" height="78"/><rect class="h" x=".5" y=".5" width="405.2" height="29.5"/><path d="M0 30H406.2M0 54H406.2M186.3 54V78M314.6 54V78"/><text x="7" y="18.5"><tspan class="b">SimulationCrossAssetModelInflationIndexModels</tspan><tspan dx="7">[table]</tspan></text><text x="4" y="45.5">...</text><text x="4" y="69">&lt; 10</text><text class="r" x="310.6" y="69">0 rows</text></g>
<g id="t-SimulationCrossAssetModelInterestRateModels" class="nd" transform="translate(721.7,4617)"><rect class="o" width="399" height="78"/><rect class="h" x=".5" y=".5" width="398" height="29.5"/><path d="M0 30H399M0 54H399M175.1 54V78M309.4 54V78"/><text x="7" y="18.5"><tspan class="b">SimulationCrossAssetModelInterestRateModels</tspan><tspan dx="7">[table]</tspan></text><text x="4" y="45.5">...</text><text x="4" y="69">&lt; 9</text><text class="r" x="305.4" y="69">50 rows</text></g>
<g id="t-SimulationMarketBenchmarkCurves" class="nd" transform="translate(764.4,4722)"><rect class="o" width="313.6" height="78"/><rect class="h" x=".5" y=".5" width="312.6" height="29.5"/><path d="M0 30H313.6M0 54H313.6M139.5 54V78M240.3 54V78"/><text x="7" y="18.5"><tspan class="b">SimulationMarketBenchmarkCurves</tspan><tspan dx="7">[table]</tspan></text><text x="4" y="69">&lt; 3</text><text class="r" x="236.3" y="69">1 row</text></g>
<g id="t-SimulationMarketCapFloorVolatilitiesCurrencies" class="nd" transform="translate(720.7,4863)"><rect class="o" width="400" height="78"/><rect class="h" x=".5" y=".5" width="399" height="29.5"/><path d="M0 30H400M0 54H400M179.1 54V78M307.4 54V78"/><text x="7" y="18.5"><tspan class="b">SimulationMarketCapFloorVolatilitiesCurrencies</tspan><tspan dx="7">[table]</tspan></text><text x="4" y="45.5">...</text><text x="4" y="69">&lt; 3</text><text class="r" x="303.4" y="69">7 rows</text></g>
<g id="t-TodaysMarketCapFloorVolatilities" class="nd" transform="translate(327.8,4953)"><rect class="o" width="297.2" height="78"/><rect class="h" x=".5" y=".5" width="296.2" height="29.5"/><path d="M0 30H297.2M0 54H297.2M128.2 54V78M231 54V78"/><text x="7" y="18.5"><tspan class="b">TodaysMarketCapFloorVolatilities</tspan><tspan dx="7">[table]</tspan></text><text x="4" y="45.5">...</text><text x="4" y="69">&lt; 1</text><text class="r" x="227" y="69">3 rows</text></g>
<g id="t-SimulationMarketCurrencies" class="nd" transform="translate(790.9,4969)"><rect class="o" width="260.6" height="78"/><rect class="h" x=".5" y=".5" width="259.6" height="29.5"/><path d="M0 30H260.6M0 54H260.6M104.9 54V78M205.6 54V78"/><text x="7" y="18.5"><tspan class="b">SimulationMarketCurrencies</tspan><tspan dx="7">[table]</tspan></text><text x="4" y="45.5">...</text><text x="4" y="69">&lt; 2</text><text class="r" x="201.6" y="69">31 rows</text></g>
<g id="t-PortfolioBaskets" class="nd" transform="translate(1306,4988)"><rect class="o" width="177.1" height="78"/><rect class="h" x=".5" y=".5" width="176.1" height="29.5"/><path d="M0 30H177.1M0 54H177.1M89.5 54V78M141.5 54V78"/><text x="7" y="18.5"><tspan class="b">PortfolioBaskets</tspan><tspan dx="7">[table]</tspan></text><text x="4" y="45.5">...</text><text x="4" y="69">&lt; 3</text><text class="r" x="137.5" y="69">0 rows</text></g>
<g id="t-SimulationMarketSwaptionVolatilitiesCurrencies" class="nd" transform="translate(720.7,5074)"><rect class="o" width="400" height="78"/><rect class="h" x=".5" y=".5" width="399" height="29.5"/><path d="M0 30H400M0 54H400M175.1 54V78M310.4 54V78"/><text x="7" y="18.5"><tspan class="b">SimulationMarketSwaptionVolatilitiesCurrencies</tspan><tspan dx="7">[table]</tspan></text><text x="4" y="45.5">...</text><text x="4" y="69">&lt; 3</text><text class="r" x="306.4" y="69">81 rows</text></g>
<g id="t-TodaysMarketSwaptionVolatilities" class="nd" transform="translate(327.8,5094)"><rect class="o" width="297.2" height="78"/><rect class="h" x=".5" y=".5" width="296.2" height="29.5"/><path d="M0 30H297.2M0 54H297.2M128.2 54V78M231 54V78"/><text x="7" y="18.5"><tspan class="b">TodaysMarketSwaptionVolatilities</tspan><tspan dx="7">[table]</tspan></text><text x="4" y="69">&lt; 1</text><text class="r" x="227" y="69">5 rows</text></g>
<g id="t-SimulationCrossAssetModel" class="nd" transform="translate(791.9,5180)"><rect class="o" width="258.6" height="78"/><rect class="h" x=".5" y=".5" width="257.6" height="29.5"/><path d="M0 30H258.6M0 54H258.6M103.9 54V78M202.6 54V78"/><text x="7" y="18.5"><tspan class="b">SimulationCrossAssetModel</tspan><tspan dx="7">[table]</tspan></text><text x="4" y="45.5">...</text><text x="4" y="69">&lt; 2</text><text class="r" x="198.6" y="69">17 rows</text></g>
<g id="t-SimulationCrossAssetModelForeignExchangeModels" class="nd" transform="translate(704.4,5285)"><rect class="o" width="435.6" height="78"/><rect class="h" x=".5" y=".5" width="434.6" height="29.5"/><path d="M0 30H435.6M0 54H435.6M192.4 54V78M335.9 54V78"/><text x="7" y="18.5"><tspan class="b">SimulationCrossAssetModelForeignExchangeModels</tspan><tspan dx="7">[table]</tspan></text><text x="4" y="45.5">...</text><text x="4" y="69">&lt; 6</text><text class="r" x="331.9" y="69">46 rows</text></g>
<g id="t-StresstestCapFloorVolatility" class="nd" transform="translate(348.1,5308)"><rect class="o" width="255.5" height="78"/><rect class="h" x=".5" y=".5" width="254.5" height="29.5"/><path d="M0 30H255.5M0 54H255.5M106.9 54V78M198.5 54V78"/><text x="7" y="18.5"><tspan class="b">StresstestCapFloorVolatility</tspan><tspan dx="7">[table]</tspan></text><text x="4" y="45.5">...</text><text x="4" y="69">&lt; 3</text><text class="r" x="194.5" y="69">6 rows</text></g>
<g id="t-PortfolioEquityForwardData" class="nd" transform="translate(1267.3,5324)"><rect class="o" width="254.5" height="78"/><rect class="h" x=".5" y=".5" width="253.5" height="29.5"/><path d="M0 30H254.5M0 54H254.5M106.9 54V78M198.5 54V78"/><text x="7" y="18.5"><tspan class="b">PortfolioEquityForwardData</tspan><tspan dx="7">[table]</tspan></text><text x="4" y="45.5">...</text><text x="4" y="69">&lt; 4</text><text class="r" x="194.5" y="69">4 rows</text></g>
<g id="t-SimulationCrossAssetModelCurrencies" class="nd" transform="translate(753.2,5390)"><rect class="o" width="337" height="78"/><rect class="h" x=".5" y=".5" width="336" height="29.5"/><path d="M0 30H337M0 54H337M143.6 54V78M262.7 54V78"/><text x="7" y="18.5"><tspan class="b">SimulationCrossAssetModelCurrencies</tspan><tspan dx="7">[table]</tspan></text><text x="4" y="69">&lt; 2</text><text class="r" x="258.7" y="69">76 rows</text></g>
<g id="t-dbo.TypesCurrencyCode" class="nd" transform="translate(17.3,5474)"><rect class="o" width="235.1" height="78"/><rect class="h" x=".5" y=".5" width="234.1" height="29.5"/><path d="M0 30H235.1M0 54H235.1M80.4 54V78M165.9 54V78"/><text x="7" y="18.5"><tspan class="b">dbo.TypesCurrencyCode</tspan><tspan dx="7">[table]</tspan></text><text class="r" x="161.9" y="69">0 rows</text><text class="r" x="231.1" y="69">53 &gt;</text></g>
<g id="t-StresstestDiscountCurve" class="nd" transform="translate(356.3,5552)"><rect class="o" width="239.2" height="78"/><rect class="h" x=".5" y=".5" width="238.2" height="29.5"/><path d="M0 30H239.2M0 54H239.2M94.6 54V78M188.3 54V78"/><text x="7" y="18.5"><tspan class="b">StresstestDiscountCurve</tspan><tspan dx="7">[table]</tspan></text><text x="4" y="45.5">...</text><text x="4" y="69">&lt; 3</text><text class="r" x="184.3" y="69">12 rows</text></g>
<g id="t-dbo.MdatMarketDataDefinitions" class="nd" transform="translate(334.9,5658)"><rect class="o" width="283" height="78"/><rect class="h" x=".5" y=".5" width="282" height="29.5"/><path d="M0 30H283M0 54H283M114 54V78M210.7 54V78"/><text x="7" y="18.5"><tspan class="b">dbo.MdatMarketDataDefinitions</tspan><tspan dx="7">[table]</tspan></text><text x="4" y="69">&lt; 4</text><text class="r" x="206.7" y="69">0 rows</text><text class="r" x="279" y="69">8 &gt;</text></g>
<g id="t-SimulationMarketAggregationScenarioDataCurrencies" class="nd" transform="translate(700.3,5698)"><rect class="o" width="441.8" height="78"/><rect class="h" x=".5" y=".5" width="440.8" height="29.5"/><path d="M0 30H441.8M0 54H441.8M195.5 54V78M340 54V78"/><text x="7" y="18.5"><tspan class="b">SimulationMarketAggregationScenarioDataCurrencies</tspan><tspan dx="7">[table]</tspan></text><text x="4" y="69">&lt; 2</text><text class="r" x="336" y="69">34 rows</text></g>
<g id="t-CurveConfigurationEquityVolatilities" class="nd" transform="translate(317.6,5763)"><rect class="o" width="316.6" height="78"/><rect class="h" x=".5" y=".5" width="315.6" height="29.5"/><path d="M0 30H316.6M0 54H316.6M137.4 54V78M244.3 54V78"/><text x="7" y="18.5"><tspan class="b">CurveConfigurationEquityVolatilities</tspan><tspan dx="7">[table]</tspan></text><text x="4" y="45.5">...</text><text x="4" y="69">&lt; 2</text><text class="r" x="240.3" y="69">2 rows</text></g>
<g id="t-MdatFixingDataDefinitions" class="nd" transform="translate(353.2,5869)"><rect class="o" width="246.3" height="78"/><rect class="h" x=".5" y=".5" width="245.3" height="29.5"/><path d="M0 30H246.3M0 54H246.3M98.7 54V78M194.4 54V78"/><text x="7" y="18.5"><tspan class="b">MdatFixingDataDefinitions</tspan><tspan dx="7">[table]</tspan></text><text x="4" y="45.5">...</text><text x="4" y="69">&lt; 3</text><text class="r" x="190.4" y="69">28 rows</text></g>
<g id="t-StresstestSwaptionShift" class="nd" transform="translate(361.4,5974)"><rect class="o" width="231" height="78"/><rect class="h" x=".5" y=".5" width="230" height="29.5"/><path d="M0 30H231M0 54H231M90.5 54V78M182.2 54V78"/><text x="7" y="18.5"><tspan class="b">StresstestSwaptionShift</tspan><tspan dx="7">[table]</tspan></text><text x="4" y="69">&lt; 3</text><text class="r" x="178.2" y="69">24 rows</text></g>
<g id="t-CurveConfigurationEquityCurves" class="nd" transform="translate(772.6,5961)"><rect class="o" width="296.2" height="78"/><rect class="h" x=".5" y=".5" width="295.2" height="29.5"/><path d="M0 30H296.2M0 54H296.2M127.2 54V78M230 54V78"/><text x="7" y="18.5"><tspan class="b">CurveConfigurationEquityCurves</tspan><tspan dx="7">[table]</tspan></text><text x="4" y="45.5">...</text><text x="4" y="69">&lt; 7</text><text class="r" x="226" y="69">2 rows</text></g>
<g id="t-StresstestSwaptionVolatility" class="nd" transform="translate(348.1,6239)"><rect class="o" width="255.5" height="78"/><rect class="h" x=".5" y=".5" width="254.5" height="29.5"/><path d="M0 30H255.5M0 54H255.5M106.9 54V78M198.5 54V78"/><text x="7" y="18.5"><tspan class="b">StresstestSwaptionVolatility</tspan><tspan dx="7">[table]</tspan></text><text x="4" y="45.5">...</text><text x="4" y="69">&lt; 3</text><text class="r" x="194.5" y="69">6 rows</text></g>
<g id="t-PortfolioFxForwardData" class="nd" transform="translate(1280.5,6351)"><rect class="o" width="228" height="78"/><rect class="h" x=".5" y=".5" width="227" height="29.5"/><path d="M0 30H228M0 54H228M93.7 54V78M178.2 54V78"/><text x="7" y="18.5"><tspan class="b">PortfolioFxForwardData</tspan><tspan dx="7">[table]</tspan></text><text x="4" y="45.5">...</text><text x="4" y="69">&lt; 3</text><text class="r" x="174.2" y="69">2 rows</text></g>
<g id="t-TodaysMarketDiscountingCurves" class="nd" transform="translate(327.8,6432)"><rect class="o" width="295.2" height="78"/><rect class="h" x=".5" y=".5" width="294.2" height="29.5"/><path d="M0 30H295.2M0 54H295.2M123.1 54V78M231 54V78"/><text x="7" y="18.5"><tspan class="b">TodaysMarketDiscountingCurves</tspan><tspan dx="7">[table]</tspan></text><text x="4" y="45.5">...</text><text x="4" y="69">&lt; 1</text><text class="r" x="227" y="69">15 rows</text></g>
<g id="t-SensitivityanalysisCreditCurve" class="nd" transform="translate(336.9,6538)"><rect class="o" width="276.9" height="78"/><rect class="h" x=".5" y=".5" width="275.9" height="29.5"/><path d="M0 30H276.9M0 54H276.9M118.1 54V78M214.8 54V78"/><text x="7" y="18.5"><tspan class="b">SensitivityanalysisCreditCurve</tspan><tspan dx="7">[table]</tspan></text><text x="4" y="69">&lt; 4</text><text class="r" x="210.8" y="69">4 rows</text></g>
<g id="t-SensitivityanalysisDiscountCurve" class="nd" transform="translate(327.8,6643)"><rect class="o" width="295.2" height="78"/><rect class="h" x=".5" y=".5" width="294.2" height="29.5"/><path d="M0 30H295.2M0 54H295.2M123.1 54V78M231 54V78"/><text x="7" y="18.5"><tspan class="b">SensitivityanalysisDiscountCurve</tspan><tspan dx="7">[table]</tspan></text><text x="4" y="45.5">...</text><text x="4" y="69">&lt; 3</text><text class="r" x="227" y="69">12 rows</text></g>
<g id="t-SensitivityanalysisSwaptionVolatility" class="nd" transform="translate(319.6,6749)"><rect class="o" width="313.5" height="78"/><rect class="h" x=".5" y=".5" width="312.5" height="29.5"/><path d="M0 30H313.5M0 54H313.5M136.4 54V78M243.3 54V78"/><text x="7" y="18.5"><tspan class="b">SensitivityanalysisSwaptionVolatility</tspan><tspan dx="7">[table]</tspan></text><text x="4" y="45.5">...</text><text x="4" y="69">&lt; 3</text><text class="r" x="239.3" y="69">3 rows</text></g>
<g id="t-PortfolioFxOptionData" class="nd" transform="translate(1285.6,6832)"><rect class="o" width="217.8" height="78"/><rect class="h" x=".5" y=".5" width="216.8" height="29.5"/><path d="M0 30H217.8M0 54H217.8M88.6 54V78M168 54V78"/><text x="7" y="18.5"><tspan class="b">PortfolioFxOptionData</tspan><tspan dx="7">[table]</tspan></text><text x="4" y="45.5">...</text><text x="4" y="69">&lt; 9</text><text class="r" x="164" y="69">5 rows</text></g>
<text x="15" y="7032">Generated by SchemaSpy</text>
</svg>
